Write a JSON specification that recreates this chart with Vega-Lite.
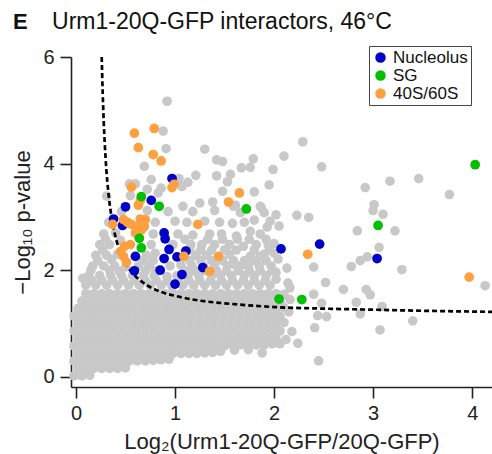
{
"$schema": "https://vega.github.io/schema/vega-lite/v6.json",
"width": 421, "height": 330,
"autosize": {"type": "none"},
"padding": {"left": 71, "top": 57, "right": 0, "bottom": 67},
"background": "white",
"config": {"view": {"stroke": null}, "font": "Liberation Sans",
 "axis": {"grid": false, "domainColor": "#222", "domainWidth": 1.6, "tickColor": "#222", "tickWidth": 1.6, "tickSize": 11, "labelFontSize": 20, "labelColor": "#222", "labelFont": "Liberation Sans", "titleFont": "Liberation Sans", "titleFontSize": 22, "titleFontWeight": "normal", "titleColor": "#222"}},
"title": {"text": "E", "subtitle": "\u200B\u2003\u2002\u2009Urm1-20Q-GFP interactors, 46°C", "anchor": "start", "frame": "group", "dx": -58, "fontSize": 22, "fontWeight": "bold", "font": "Liberation Sans", "color": "#111", "subtitleFontSize": 23, "subtitleFont": "Liberation Sans", "subtitleColor": "#111", "subtitlePadding": -23, "offset": 11},
"datasets": {
"bg": [
{"x":-0.02,"y":0.02},{"x":0.06,"y":0.02},{"x":0.14,"y":0.03},
{"x":0.02,"y":0.16},{"x":0.10,"y":0.16},{"x":0.18,"y":0.16},{"x":0.26,"y":0.16},{"x":0.34,"y":0.16},{"x":0.42,"y":0.16},{"x":0.50,"y":0.17},
{"x":-0.02,"y":0.30},{"x":0.06,"y":0.30},{"x":0.14,"y":0.30},{"x":0.22,"y":0.30},{"x":0.30,"y":0.30},{"x":0.38,"y":0.30},{"x":0.46,"y":0.30},{"x":0.54,"y":0.30},{"x":0.62,"y":0.30},{"x":0.70,"y":0.30},{"x":0.78,"y":0.31},{"x":0.86,"y":0.32},{"x":0.94,"y":0.33},
{"x":0.02,"y":0.44},{"x":0.10,"y":0.44},{"x":0.18,"y":0.44},{"x":0.26,"y":0.44},{"x":0.34,"y":0.44},{"x":0.42,"y":0.44},{"x":0.50,"y":0.44},{"x":0.58,"y":0.44},{"x":0.66,"y":0.44},{"x":0.74,"y":0.44},{"x":0.82,"y":0.44},{"x":0.90,"y":0.44},{"x":0.98,"y":0.44},{"x":1.06,"y":0.44},{"x":1.14,"y":0.44},{"x":1.22,"y":0.44},{"x":1.30,"y":0.45},{"x":1.38,"y":0.46},{"x":1.46,"y":0.48},
{"x":1.60,"y":0.50},{"x":1.74,"y":0.51},{"x":1.88,"y":0.45},
{"x":-0.02,"y":0.58},{"x":0.06,"y":0.58},{"x":0.14,"y":0.58},{"x":0.22,"y":0.58},{"x":0.30,"y":0.58},{"x":0.38,"y":0.58},{"x":0.46,"y":0.58},{"x":0.54,"y":0.58},{"x":0.62,"y":0.58},{"x":0.70,"y":0.58},{"x":0.78,"y":0.58},{"x":0.86,"y":0.58},{"x":0.94,"y":0.58},{"x":1.02,"y":0.58},{"x":1.10,"y":0.58},{"x":1.18,"y":0.58},{"x":1.26,"y":0.58},{"x":1.34,"y":0.58},{"x":1.42,"y":0.58},{"x":1.50,"y":0.58},{"x":1.58,"y":0.60},{"x":1.66,"y":0.60},{"x":1.74,"y":0.62},{"x":1.82,"y":0.60},{"x":1.90,"y":0.60},{"x":1.98,"y":0.62},{"x":2.06,"y":0.62},
{"x":0.02,"y":0.72},{"x":0.10,"y":0.72},{"x":0.18,"y":0.72},{"x":0.26,"y":0.72},{"x":0.34,"y":0.72},{"x":0.42,"y":0.72},{"x":0.50,"y":0.72},{"x":0.58,"y":0.72},{"x":0.66,"y":0.72},{"x":0.74,"y":0.72},{"x":0.82,"y":0.72},{"x":0.90,"y":0.72},{"x":0.98,"y":0.72},{"x":1.06,"y":0.72},{"x":1.14,"y":0.72},{"x":1.22,"y":0.72},{"x":1.30,"y":0.72},{"x":1.38,"y":0.72},{"x":1.46,"y":0.72},{"x":1.54,"y":0.72},{"x":1.62,"y":0.72},{"x":1.70,"y":0.72},{"x":1.78,"y":0.72},{"x":1.86,"y":0.72},{"x":1.94,"y":0.72},{"x":2.02,"y":0.72},{"x":2.12,"y":0.70},
{"x":-0.02,"y":0.86},{"x":0.06,"y":0.86},{"x":0.14,"y":0.86},{"x":0.22,"y":0.86},{"x":0.30,"y":0.86},{"x":0.38,"y":0.86},{"x":0.46,"y":0.86},{"x":0.54,"y":0.86},{"x":0.62,"y":0.86},{"x":0.70,"y":0.86},{"x":0.78,"y":0.86},{"x":0.86,"y":0.86},{"x":0.94,"y":0.86},{"x":1.02,"y":0.86},{"x":1.10,"y":0.86},{"x":1.18,"y":0.86},{"x":1.26,"y":0.86},{"x":1.34,"y":0.86},{"x":1.42,"y":0.86},{"x":1.50,"y":0.86},{"x":1.58,"y":0.86},{"x":1.66,"y":0.86},{"x":1.74,"y":0.86},{"x":1.82,"y":0.86},{"x":1.90,"y":0.86},{"x":1.98,"y":0.86},{"x":2.06,"y":0.86},{"x":2.18,"y":0.85},
{"x":0.02,"y":1.00},{"x":0.10,"y":1.00},{"x":0.18,"y":1.00},{"x":0.26,"y":1.00},{"x":0.34,"y":1.00},{"x":0.42,"y":1.00},{"x":0.50,"y":1.00},{"x":0.58,"y":1.00},{"x":0.66,"y":1.00},{"x":0.74,"y":1.00},{"x":0.82,"y":1.00},{"x":0.90,"y":1.00},{"x":0.98,"y":1.00},{"x":1.06,"y":1.00},{"x":1.14,"y":1.00},{"x":1.22,"y":1.00},{"x":1.30,"y":1.00},{"x":1.38,"y":1.00},{"x":1.46,"y":1.00},{"x":1.54,"y":1.00},{"x":1.62,"y":1.00},{"x":1.70,"y":1.00},{"x":1.78,"y":1.00},{"x":1.86,"y":1.00},{"x":1.94,"y":1.00},{"x":2.02,"y":1.00},{"x":2.10,"y":1.02},
{"x":-0.02,"y":1.14},{"x":0.06,"y":1.14},{"x":0.14,"y":1.14},{"x":0.22,"y":1.14},{"x":0.30,"y":1.14},{"x":0.38,"y":1.14},{"x":0.46,"y":1.14},{"x":0.54,"y":1.14},{"x":0.62,"y":1.14},{"x":0.70,"y":1.14},{"x":0.78,"y":1.14},{"x":0.86,"y":1.14},{"x":0.94,"y":1.14},{"x":1.02,"y":1.14},{"x":1.10,"y":1.14},{"x":1.18,"y":1.14},{"x":1.26,"y":1.14},{"x":1.34,"y":1.14},{"x":1.42,"y":1.14},{"x":1.50,"y":1.14},{"x":1.58,"y":1.14},{"x":1.66,"y":1.14},{"x":1.74,"y":1.14},{"x":1.82,"y":1.14},{"x":1.90,"y":1.14},{"x":1.98,"y":1.14},{"x":2.06,"y":1.14},{"x":2.15,"y":1.22},
{"x":0.02,"y":1.28},{"x":0.10,"y":1.28},{"x":0.18,"y":1.28},{"x":0.26,"y":1.28},{"x":0.34,"y":1.28},{"x":0.42,"y":1.28},{"x":0.50,"y":1.28},{"x":0.58,"y":1.28},{"x":0.66,"y":1.28},{"x":0.74,"y":1.28},{"x":0.82,"y":1.28},{"x":0.90,"y":1.28},{"x":0.98,"y":1.28},{"x":1.06,"y":1.28},{"x":1.14,"y":1.28},{"x":1.22,"y":1.28},{"x":1.30,"y":1.28},{"x":1.38,"y":1.28},{"x":1.46,"y":1.28},{"x":1.54,"y":1.28},{"x":1.62,"y":1.28},{"x":1.70,"y":1.28},{"x":1.78,"y":1.28},{"x":1.86,"y":1.28},{"x":1.94,"y":1.28},{"x":2.02,"y":1.28},{"x":2.10,"y":1.30},
{"x":0.06,"y":1.42},{"x":0.14,"y":1.42},{"x":0.22,"y":1.42},{"x":0.30,"y":1.42},{"x":0.38,"y":1.42},{"x":0.46,"y":1.42},{"x":0.54,"y":1.42},{"x":0.62,"y":1.42},{"x":0.70,"y":1.42},{"x":0.78,"y":1.42},{"x":0.86,"y":1.42},{"x":0.94,"y":1.42},{"x":1.02,"y":1.42},{"x":1.10,"y":1.42},{"x":1.18,"y":1.42},{"x":1.26,"y":1.42},{"x":1.34,"y":1.42},{"x":1.42,"y":1.42},{"x":1.50,"y":1.42},{"x":1.58,"y":1.42},{"x":1.66,"y":1.42},{"x":1.74,"y":1.42},{"x":1.82,"y":1.42},{"x":1.90,"y":1.42},{"x":1.98,"y":1.42},{"x":2.06,"y":1.42},{"x":2.16,"y":1.45},
{"x":0.10,"y":1.56},{"x":0.18,"y":1.56},{"x":0.26,"y":1.56},{"x":0.34,"y":1.56},{"x":0.42,"y":1.56},{"x":0.50,"y":1.56},{"x":0.58,"y":1.56},{"x":0.66,"y":1.56},{"x":0.74,"y":1.56},{"x":0.82,"y":1.56},{"x":0.90,"y":1.56},{"x":0.98,"y":1.56},{"x":1.06,"y":1.56},{"x":1.14,"y":1.56},{"x":1.22,"y":1.56},{"x":1.30,"y":1.56},{"x":1.38,"y":1.56},{"x":1.46,"y":1.56},{"x":1.54,"y":1.56},{"x":1.62,"y":1.56},{"x":1.70,"y":1.56},{"x":1.78,"y":1.56},{"x":1.86,"y":1.56},{"x":1.94,"y":1.56},{"x":2.02,"y":1.56},{"x":2.10,"y":1.55},
{"x":0.10,"y":1.72},{"x":0.20,"y":1.72},{"x":0.31,"y":1.72},{"x":0.42,"y":1.72},{"x":0.53,"y":1.72},{"x":0.64,"y":1.72},{"x":0.75,"y":1.72},{"x":0.86,"y":1.72},{"x":0.97,"y":1.70},{"x":1.08,"y":1.72},{"x":1.19,"y":1.72},{"x":1.30,"y":1.72},{"x":1.41,"y":1.72},{"x":1.52,"y":1.72},{"x":1.63,"y":1.72},{"x":1.74,"y":1.72},{"x":1.85,"y":1.72},{"x":1.96,"y":1.72},{"x":0.07,"y":1.85},{"x":0.12,"y":1.80},
{"x":0.16,"y":1.81},{"x":0.26,"y":1.81},{"x":0.37,"y":1.81},{"x":0.48,"y":1.81},{"x":0.59,"y":1.81},{"x":0.70,"y":1.81},{"x":0.81,"y":1.81},{"x":0.92,"y":1.80},{"x":1.03,"y":1.81},{"x":1.14,"y":1.81},{"x":1.25,"y":1.81},{"x":1.36,"y":1.81},{"x":1.47,"y":1.81},{"x":1.58,"y":1.81},{"x":1.69,"y":1.81},{"x":1.80,"y":1.81},{"x":1.91,"y":1.81},{"x":2.02,"y":1.83},
{"x":0.13,"y":1.90},{"x":0.24,"y":1.90},{"x":0.35,"y":1.90},{"x":0.46,"y":1.90},{"x":0.57,"y":1.90},{"x":0.68,"y":1.90},{"x":0.79,"y":1.90},{"x":0.92,"y":1.88},{"x":1.02,"y":1.90},{"x":1.13,"y":1.90},{"x":1.24,"y":1.90},{"x":1.37,"y":1.90},{"x":1.46,"y":1.90},{"x":1.57,"y":1.90},{"x":1.70,"y":1.90},{"x":1.80,"y":1.90},{"x":1.92,"y":1.90},
{"x":0.70,"y":1.99},{"x":0.80,"y":1.99},{"x":1.10,"y":1.99},{"x":1.20,"y":1.99},{"x":1.31,"y":1.99},{"x":1.42,"y":1.99},{"x":1.52,"y":1.99},{"x":1.64,"y":1.99},{"x":1.75,"y":1.99},{"x":1.86,"y":1.99},{"x":1.98,"y":1.99},
{"x":0.15,"y":2.00},{"x":0.34,"y":2.00},{"x":0.44,"y":1.98},{"x":0.22,"y":2.18},{"x":0.36,"y":2.20},{"x":0.27,"y":2.38},{"x":0.30,"y":2.58},
{"x":0.17,"y":2.08},{"x":0.28,"y":2.08},{"x":0.39,"y":2.08},{"x":0.50,"y":2.06},{"x":0.63,"y":2.08},{"x":0.74,"y":2.08},{"x":0.95,"y":2.08},{"x":1.17,"y":2.08},{"x":1.29,"y":2.08},{"x":1.40,"y":2.10},{"x":1.53,"y":2.08},{"x":1.62,"y":2.08},{"x":1.74,"y":2.08},{"x":1.85,"y":2.08},{"x":1.97,"y":2.08},
{"x":0.68,"y":2.18},{"x":0.78,"y":2.18},{"x":1.15,"y":2.18},{"x":1.26,"y":2.18},{"x":1.37,"y":2.18},{"x":1.48,"y":2.18},{"x":1.59,"y":2.18},{"x":1.70,"y":2.18},{"x":1.81,"y":2.18},{"x":1.92,"y":2.18},
{"x":0.20,"y":2.28},{"x":0.31,"y":2.28},{"x":0.42,"y":2.30},{"x":0.71,"y":2.28},{"x":0.80,"y":2.32},{"x":1.06,"y":2.10},{"x":1.21,"y":2.28},{"x":1.32,"y":2.28},{"x":1.55,"y":2.30},{"x":1.76,"y":2.26},{"x":1.90,"y":2.30},{"x":2.00,"y":2.32},
{"x":1.15,"y":2.38},{"x":1.26,"y":2.38},{"x":1.37,"y":2.38},{"x":1.50,"y":2.38},{"x":1.62,"y":2.38},{"x":1.80,"y":2.38},{"x":1.95,"y":2.38},
{"x":0.24,"y":2.48},{"x":0.34,"y":2.48},{"x":0.45,"y":2.56},{"x":0.76,"y":2.48},{"x":0.98,"y":2.48},{"x":1.16,"y":2.48},{"x":1.27,"y":2.48},{"x":1.40,"y":2.48},{"x":1.55,"y":2.48},{"x":1.69,"y":2.45},{"x":1.82,"y":2.48},{"x":1.94,"y":2.48},
{"x":1.10,"y":2.58},{"x":1.33,"y":2.58},{"x":1.48,"y":2.58},{"x":1.75,"y":2.58},{"x":1.92,"y":2.58},
{"x":0.28,"y":2.68},{"x":0.40,"y":2.70},{"x":0.78,"y":2.68},{"x":1.03,"y":2.68},{"x":1.18,"y":2.66},{"x":1.35,"y":2.68},{"x":1.47,"y":2.68},{"x":1.62,"y":2.64},{"x":1.76,"y":2.73},{"x":1.86,"y":2.68},
{"x":0.33,"y":2.90},{"x":0.80,"y":2.90},{"x":1.00,"y":2.92},{"x":1.12,"y":2.90},{"x":1.30,"y":2.92},{"x":1.45,"y":2.90},{"x":1.58,"y":2.88},{"x":1.70,"y":2.90},{"x":1.80,"y":2.94},{"x":1.96,"y":2.92},
{"x":0.46,"y":3.10},{"x":0.72,"y":3.12},{"x":0.93,"y":3.10},{"x":1.18,"y":3.10},{"x":1.40,"y":3.12},{"x":1.66,"y":3.08},{"x":1.90,"y":3.08},
{"x":0.92,"y":5.17},{"x":0.88,"y":4.61},{"x":0.91,"y":4.28},{"x":1.30,"y":4.27},{"x":1.42,"y":4.07},{"x":1.48,"y":4.04},{"x":1.79,"y":4.09},{"x":1.76,"y":3.93},{"x":1.67,"y":3.92},{"x":1.99,"y":3.89},{"x":0.69,"y":3.95},{"x":0.76,"y":3.70},{"x":1.21,"y":3.78},{"x":1.42,"y":3.77},{"x":1.56,"y":3.80},{"x":1.53,"y":3.66},{"x":1.13,"y":3.65},{"x":1.04,"y":3.72},{"x":1.07,"y":3.57},{"x":0.86,"y":3.54},{"x":0.54,"y":3.62},{"x":0.60,"y":3.62},{"x":0.72,"y":3.52},{"x":1.48,"y":3.48},{"x":1.80,"y":3.47},{"x":1.95,"y":3.60},{"x":0.31,"y":3.39},{"x":0.55,"y":3.40},{"x":0.83,"y":3.45},{"x":1.38,"y":3.28},{"x":1.25,"y":3.26},{"x":1.08,"y":3.20},{"x":1.86,"y":3.20},{"x":1.61,"y":3.22},{"x":1.59,"y":3.20},
{"x":2.10,"y":4.14},{"x":2.48,"y":3.94},{"x":2.29,"y":4.41},{"x":2.92,"y":3.55},{"x":3.17,"y":3.67},{"x":3.46,"y":3.72},{"x":3.77,"y":3.42},{"x":3.01,"y":3.23},{"x":3.00,"y":3.12},{"x":3.10,"y":3.05},{"x":2.84,"y":2.74},{"x":3.22,"y":2.74},{"x":2.02,"y":3.04},{"x":2.23,"y":3.03},{"x":2.35,"y":2.99},{"x":2.05,"y":2.83},{"x":1.93,"y":2.81},{"x":2.00,"y":2.50},{"x":2.04,"y":2.21},{"x":2.40,"y":2.06},{"x":2.13,"y":2.04},{"x":2.02,"y":1.96},{"x":3.06,"y":2.43},{"x":2.94,"y":2.25},{"x":2.87,"y":2.18},{"x":2.78,"y":2.07},{"x":3.29,"y":2.01},{"x":4.13,"y":1.71},{"x":3.40,"y":1.05},{"x":3.07,"y":0.88},{"x":2.70,"y":1.64},{"x":2.52,"y":1.77},{"x":2.93,"y":1.64},{"x":2.97,"y":1.54},{"x":2.83,"y":1.40},{"x":2.87,"y":1.18},{"x":3.09,"y":1.32},{"x":2.40,"y":1.55},{"x":2.48,"y":1.38},{"x":2.53,"y":1.13},{"x":2.44,"y":1.15},{"x":2.41,"y":0.92},{"x":2.24,"y":0.63},{"x":2.16,"y":1.67},{"x":2.14,"y":1.76},{"x":1.87,"y":3.18},{"x":1.63,"y":2.58},{"x":1.86,"y":2.26},{"x":1.67,"y":2.09},{"x":2.45,"y":0.30}
],
"curve": [
{"x":0.26,"y":6.00},{"x":0.27,"y":5.33},{"x":0.28,"y":4.80},{"x":0.30,"y":4.08},{"x":0.33,"y":3.41},{"x":0.36,"y":2.99},{"x":0.40,"y":2.62},{"x":0.45,"y":2.33},{"x":0.50,"y":2.13},{"x":0.60,"y":1.89},{"x":0.70,"y":1.74},{"x":0.85,"y":1.60},{"x":1.00,"y":1.52},{"x":1.25,"y":1.43},{"x":1.50,"y":1.38},{"x":2.00,"y":1.31},{"x":2.50,"y":1.28},{"x":3.00,"y":1.26},{"x":3.50,"y":1.24},{"x":4.20,"y":1.22}
],
"hits": [
{"x":0.97,"y":3.72,"g":"Nucleolus"},{"x":0.76,"y":3.31,"g":"Nucleolus"},{"x":0.50,"y":3.19,"g":"Nucleolus"},{"x":0.38,"y":2.96,"g":"Nucleolus"},{"x":0.47,"y":2.84,"g":"Nucleolus"},{"x":0.89,"y":2.70,"g":"Nucleolus"},{"x":0.90,"y":2.59,"g":"Nucleolus"},{"x":0.94,"y":2.39,"g":"Nucleolus"},{"x":0.60,"y":2.26,"g":"Nucleolus"},{"x":0.89,"y":2.22,"g":"Nucleolus"},{"x":1.02,"y":2.25,"g":"Nucleolus"},{"x":1.11,"y":2.36,"g":"Nucleolus"},{"x":0.59,"y":1.99,"g":"Nucleolus"},{"x":0.85,"y":2.00,"g":"Nucleolus"},{"x":1.07,"y":1.92,"g":"Nucleolus"},{"x":1.00,"y":1.74,"g":"Nucleolus"},{"x":1.28,"y":2.05,"g":"Nucleolus"},{"x":2.07,"y":2.40,"g":"Nucleolus"},{"x":2.46,"y":2.49,"g":"Nucleolus"},{"x":3.04,"y":2.22,"g":"Nucleolus"},
{"x":0.59,"y":4.57,"g":"40S/60S"},{"x":0.79,"y":4.66,"g":"40S/60S"},{"x":0.63,"y":4.30,"g":"40S/60S"},{"x":0.78,"y":4.17,"g":"40S/60S"},{"x":0.86,"y":4.05,"g":"40S/60S"},{"x":0.56,"y":3.56,"g":"40S/60S"},{"x":0.97,"y":3.55,"g":"40S/60S"},{"x":0.99,"y":3.61,"g":"40S/60S"},{"x":1.65,"y":3.45,"g":"40S/60S"},{"x":1.54,"y":3.28,"g":"40S/60S"},{"x":0.63,"y":3.22,"g":"40S/60S"},{"x":0.65,"y":3.31,"g":"40S/60S"},{"x":0.48,"y":2.95,"g":"40S/60S"},{"x":0.37,"y":2.86,"g":"40S/60S"},{"x":0.56,"y":2.86,"g":"40S/60S"},{"x":0.65,"y":2.96,"g":"40S/60S"},{"x":0.70,"y":2.95,"g":"40S/60S"},{"x":0.61,"y":2.80,"g":"40S/60S"},{"x":0.66,"y":2.76,"g":"40S/60S"},{"x":0.60,"y":2.70,"g":"40S/60S"},{"x":0.65,"y":2.89,"g":"40S/60S"},{"x":0.69,"y":2.82,"g":"40S/60S"},{"x":0.52,"y":2.90,"g":"40S/60S"},{"x":1.23,"y":2.86,"g":"40S/60S"},{"x":0.49,"y":2.45,"g":"40S/60S"},{"x":0.55,"y":2.48,"g":"40S/60S"},{"x":0.48,"y":2.26,"g":"40S/60S"},{"x":0.51,"y":2.15,"g":"40S/60S"},{"x":0.45,"y":2.35,"g":"40S/60S"},{"x":1.09,"y":2.26,"g":"40S/60S"},{"x":1.44,"y":2.26,"g":"40S/60S"},{"x":1.35,"y":1.98,"g":"40S/60S"},{"x":2.34,"y":2.30,"g":"40S/60S"},{"x":3.97,"y":1.87,"g":"40S/60S"},
{"x":0.66,"y":3.38,"g":"SG"},{"x":0.84,"y":3.20,"g":"SG"},{"x":1.72,"y":3.15,"g":"SG"},{"x":0.64,"y":2.60,"g":"SG"},{"x":0.66,"y":2.42,"g":"SG"},{"x":4.03,"y":3.98,"g":"SG"},{"x":3.05,"y":2.84,"g":"SG"},{"x":2.05,"y":1.46,"g":"SG"},{"x":2.28,"y":1.45,"g":"SG"}
]
},
"encoding": {
 "x": {"field": "x", "type": "quantitative", "scale": {"domain": [-0.05, 4.2], "nice": false, "zero": false}, "axis": {"values": [0,1,2,3,4], "title": "Log₂(Urm1-20Q-GFP/20Q-GFP)", "labelPadding": 5, "titlePadding": 8}},
 "y": {"field": "y", "type": "quantitative", "scale": {"domain": [-0.19, 6], "nice": false, "zero": false}, "axis": {"values": [0,2,4,6], "title": "−Log₁₀ p-value", "labelPadding": 6, "titlePadding": 8}}
},
"layer": [
 {"data": {"name": "bg"}, "mark": {"type": "circle", "size": 92, "color": "#c8c8c8", "opacity": 1}},
 {"data": {"name": "curve"}, "mark": {"type": "line", "color": "#000", "strokeWidth": 2.7, "strokeDash": [5, 3], "interpolate": "monotone", "clip": true}},
 {"data": {"name": "hits"}, "mark": {"type": "circle", "size": 95, "opacity": 1},
  "encoding": {"color": {"field": "g", "type": "nominal", "scale": {"domain": ["Nucleolus","SG","40S/60S"], "range": ["#0000c8","#00c000","#ffa040"]},
   "legend": {"orient": "none", "legendX": 298, "legendY": -11, "title": null, "strokeColor": "#444", "fillColor": "white", "padding": 3, "symbolType": "circle", "symbolSize": 110, "labelFontSize": 17, "labelFont": "Liberation Sans", "labelColor": "#111", "rowPadding": 0, "labelOffset": 4, "symbolStrokeWidth": 0, "symbolOpacity": 1}}}}
]
}
